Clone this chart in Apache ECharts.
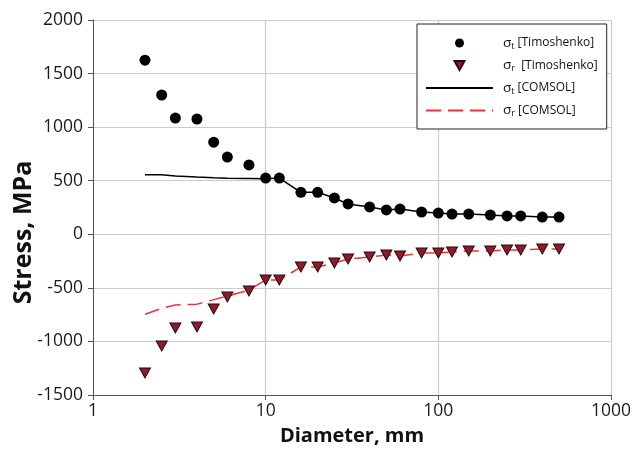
<!DOCTYPE html>
<html>
<head>
<meta charset="utf-8">
<script src="https://cdn.jsdelivr.net/npm/echarts@6/dist/echarts.min.js"></script>
<style>html,body{margin:0;padding:0;background:#fff}#c{width:633px;height:450px}</style>
</head>
<body>
<div id="c"></div>
<script>
var diameters = [2, 2.5, 3, 4, 5, 6, 8, 10, 12, 16, 20, 25, 30, 40, 50, 60, 80, 100, 120, 150, 200, 250, 300, 400, 500];
var sigmaTTimo = [1625, 1300, 1085, 1076, 860, 721, 647, 525, 525, 392, 392, 339, 283, 255, 227, 236, 208, 198, 189, 189, 180, 171, 171, 161, 161];
var sigmaRTimo = [-1294, -1042, -874, -865, -697, -585, -529, -426, -426, -305, -305, -268, -231, -212, -193, -203, -175, -175, -165, -156, -156, -146, -146, -137, -137];
var sigmaTComsol = [556, 556, 545, 535, 528, 523, 520, 518, 525, 392, 392, 339, 283, 255, 227, 236, 208, 198, 189, 189, 180, 171, 171, 161, 161];
var sigmaRComsol = [-747, -690, -660, -652, -610, -576, -520, -426, -426, -305, -305, -268, -231, -212, -193, -203, -175, -175, -165, -156, -156, -146, -146, -137, -137];
var xTicks = [1, 10, 100, 1000];
var yTicks = [-1500, -1000, -500, 0, 500, 1000, 1500, 2000];

function pairs(xs, ys) { return xs.map(function (x, i) { return [x, ys[i]]; }); }

var names = ['σt [Timoshenko]', 'σr [Timoshenko]', 'σt [COMSOL]', 'σr [COMSOL]'];
var legendText = {};
legendText[names[0]] = '{g|}{s|σ}{sub|t} {n|[Timoshenko]}';
legendText[names[1]] = '{g|}{s|σ}{sub|r}  {n|[Timoshenko]}';
legendText[names[2]] = '{g|}{s|σ}{sub|t} {n|[COMSOL]}';
legendText[names[3]] = '{g|}{s|σ}{sub|r} {n|[COMSOL]}';

var triDown = 'path://M0,0 L10,0 L5,9 Z';
var font = 'Open Sans';

var chart = echarts.init(document.getElementById('c'), null, { renderer: 'canvas' });
chart.setOption({
  animation: false,
  backgroundColor: '#fff',
  grid: { left: 93, right: 22, top: 20, bottom: 55, containLabel: false, outerBoundsMode: 'none' },
  xAxis: {
    type: 'log', logBase: 10, min: xTicks[0], max: xTicks[xTicks.length - 1],
    name: 'Diameter, mm', nameLocation: 'middle', nameGap: 31, nameMoveOverlap: false,
    nameTextStyle: { fontFamily: font, fontWeight: 'bold', fontSize: 20, color: '#111' },
    axisLine: { show: true, onZero: false, lineStyle: { color: '#555', width: 1 } },
    axisTick: { show: true, length: 5, lineStyle: { color: '#555' } },
    minorTick: { show: false },
    axisLabel: { fontFamily: font, fontSize: 17.5, color: '#1a1a1a', margin: 7,
      formatter: function (v) { return String(v); } },
    splitLine: { show: true, lineStyle: { color: '#cbcbcb', width: 1.2 } }
  },
  yAxis: {
    type: 'value', min: yTicks[0], max: yTicks[yTicks.length - 1], interval: 500,
    name: 'Stress, MPa', nameLocation: 'middle', nameGap: 57, nameMoveOverlap: false,
    nameTextStyle: { fontFamily: font, fontWeight: 'bold', fontSize: 25, color: '#111', padding: [0, 50, 0, 0] },
    axisLine: { show: true, onZero: false, lineStyle: { color: '#555', width: 1 } },
    axisTick: { show: true, length: 5, lineStyle: { color: '#555' } },
    axisLabel: { fontFamily: font, fontSize: 17.5, color: '#1a1a1a', margin: 10,
      formatter: function (v) { return String(v); } },
    splitLine: { show: true, lineStyle: { color: '#cbcbcb', width: 1.2 } }
  },
  legend: {
    orient: 'vertical', left: 417, top: 24,
    padding: [12, 9, 11, 8],
    itemWidth: 67, itemHeight: 9, itemGap: 8,
    backgroundColor: '#fff', borderColor: '#222', borderWidth: 1,
    data: [
      { name: names[0], icon: 'circle' },
      { name: names[1], icon: triDown },
      { name: names[2], itemStyle: { color: 'rgba(0,0,0,0)', borderWidth: 0 } },
      { name: names[3], itemStyle: { color: 'rgba(0,0,0,0)', borderWidth: 0 } }
    ],
    formatter: function (n) { return legendText[n]; },
    textStyle: {
      fontFamily: font, color: '#111',
      rich: {
        g: { width: 5 },
        s: { fontSize: 13.5, lineHeight: 15, fontFamily: font },
        sub: { fontSize: 9, lineHeight: 15, verticalAlign: 'bottom', fontFamily: font, padding: [5, 0, 0, 0] },
        n: { fontSize: 12, lineHeight: 15, fontFamily: font }
      }
    }
  },
  series: [
    {
      name: names[2], type: 'line', data: pairs(diameters, sigmaTComsol),
      symbol: 'none', showSymbol: false, z: 2,
      lineStyle: { color: '#000', width: 1.5 }, itemStyle: { color: '#000' }
    },
    {
      name: names[3], type: 'line', data: pairs(diameters, sigmaRComsol),
      symbol: 'none', showSymbol: false, z: 2,
      lineStyle: { color: '#e8343c', width: 1.5, type: [15, 7] }, itemStyle: { color: '#e8343c' }
    },
    {
      name: names[0], type: 'scatter', data: pairs(diameters, sigmaTTimo),
      symbol: 'circle', symbolSize: 11, z: 3,
      itemStyle: { color: '#000', opacity: 1 }
    },
    {
      name: names[1], type: 'scatter', data: pairs(diameters, sigmaRTimo),
      symbol: triDown, symbolSize: [11, 10], z: 3,
      itemStyle: { color: '#8e1a2c', borderColor: '#2a080e', borderWidth: 1, opacity: 1 }
    }
  ]
});
</script>
</body>
</html>
